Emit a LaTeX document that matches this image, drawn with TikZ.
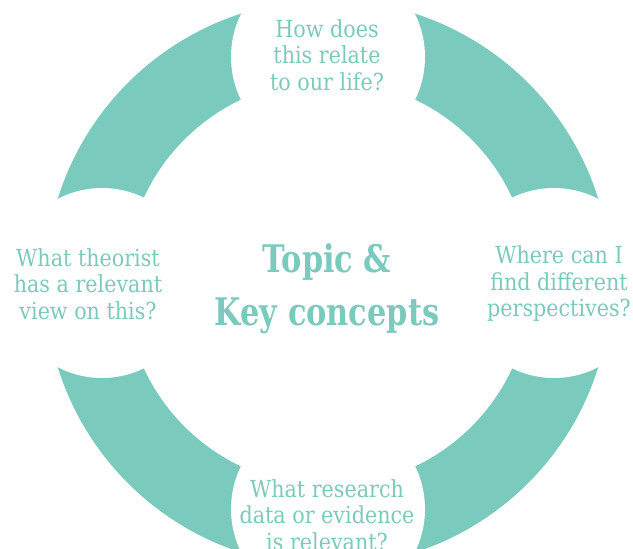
\documentclass[tikz,border=0pt]{standalone}
\usepackage{fontspec}
\setmainfont{DejaVu Serif}[FakeStretch=0.88]
\newfontfamily\hubfont{DejaVu Serif}[FakeStretch=0.8]
\usetikzlibrary{calc}
\definecolor{ringteal}{RGB}{122,202,189}

\begin{document}
\begin{tikzpicture}[x=1pt, y=-1pt,
	question/.style={text=ringteal, align=center, inner sep=0pt, font=\fontsize{23.5}{26.5}\selectfont},
	hub/.style={text=ringteal, align=center, inner sep=0pt, font=\hubfont\bfseries\fontsize{38}{53}\selectfont}]
	
	\useasboundingbox (0,0) rectangle (633,549);
	\coordinate (c) at (328,283);
	
	% ring, cut open where the questions sit
	\fill[ringteal, even odd rule] (c) circle (283) (c) circle (203);
	\foreach \a/\r in {90/97, 270/97, 0/95, 180/95}
		\fill[white] ($(c)+(\a:226)$) circle (\r);
	
	\node[question] (life) at (327,55) {How does\\this relate\\to our life?};
	\node[question] (views) at (559,284) {Where can I\\find different\\perspectives?};
	\node[question] (data) at (327,515) {What research\\data or evidence\\is relevant?};
	\node[question] (theory) at (88,284) {What theorist\\has a relevant\\view on this?};
	
	\node[hub] (topic) at (327,289) {Topic \&\\Key concepts};
	
\end{tikzpicture}
\end{document}
